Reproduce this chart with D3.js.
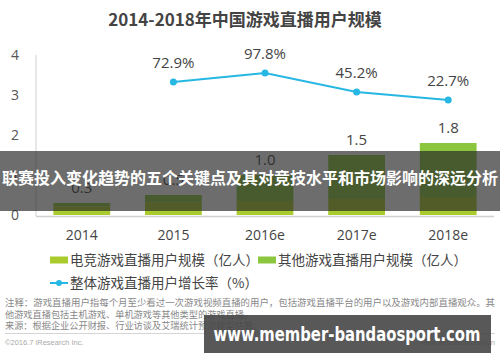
<!DOCTYPE html>
<html><head><meta charset="utf-8">
<script src="https://cdn.jsdelivr.net/npm/d3@7/dist/d3.min.js"></script>
<style>
html,body{margin:0;padding:0;background:#fff;}
svg{display:block;font-family:"Noto Sans CJK SC","Noto Sans",sans-serif;}
</style></head>
<body><svg id="c" width="500" height="362"></svg>
<script>
const categories = ["2014", "2015", "2016e", "2017e", "2018e"];
const esportsUsers = [0.22, 0.32, 0.35, 0.4, 0.45];
const otherUsers = [0.08, 0.18, 0.65, 1.1, 1.35];
const totalLabels = ["0.3", "0.5", "1.0", "1.5", "1.8"];
const growthRate = [null, 72.9, 97.8, 45.2, 22.7];
const yTicks = [0, 1, 2, 3, 4];
const seriesNames = ["电竞游戏直播用户规模（亿人）", "其他游戏直播用户规模（亿人）", "整体游戏直播用户增长率（%）"];
const titleText = "2014-2018年中国游戏直播用户规模";
const notes = ["注释：游戏直播用户指每个月至少看过一次游戏视频直播的用户，包括游戏直播平台的用户以及游戏内部直播观众。其",
  "他游戏直播包括主机游戏、单机游戏等其他类型的游戏直播。",
  "来源：根据企业公开财报、行业访谈及艾瑞统计预测模型估算。"];
const bannerText = "联赛投入变化趋势的五个关键点及其对竞技水平和市场影响的深远分析";
const watermarkText = "www.member-bandaosport.com";

const svg = d3.select("#c");
const colLime = "#a9cb2e", colGreen = "#8cc63f", colLine = "#27b7e3";
const numFont = "'Open Sans','Noto Sans',sans-serif";

const x = d3.scaleBand().domain(categories).range([36, 494]).paddingInner(0.38).paddingOuter(0.19);
const y = d3.scaleLinear().domain([0, 4]).range([215, 55]);
const y2 = d3.scaleLinear().domain([0, 100]).range([108.2, 72.2]);

// title
svg.append("text").attr("x", 245).attr("y", 26).attr("text-anchor", "middle")
  .attr("font-size", 17).attr("font-weight", "bold").attr("fill", "#444").text(titleText);

// axes
svg.append("line").attr("x1", 36).attr("x2", 36).attr("y1", 55).attr("y2", 216).attr("stroke", "#d0d0d0").attr("stroke-width", 1);
svg.append("line").attr("x1", 36).attr("x2", 494).attr("y1", 216.5).attr("y2", 216.5).attr("stroke", "#d0d0d0").attr("stroke-width", 1.5);
svg.append("g").selectAll("text").data(yTicks).join("text")
  .attr("x", 15).attr("y", d => y(d) + 5).attr("text-anchor", "middle")
  .attr("font-family", numFont).attr("font-size", 14).attr("fill", "#555").text(d => d);

// stacked bars
const stackData = categories.map((c, i) => ({cat: c, e: esportsUsers[i], o: otherUsers[i]}));
const stack = d3.stack().keys(["e", "o"])(stackData);
const colors = [colLime, colGreen];
svg.append("g").selectAll("g").data(stack).join("g").attr("fill", (d, i) => colors[i])
  .selectAll("rect").data(d => d).join("rect")
  .attr("x", d => x(d.data.cat)).attr("width", x.bandwidth())
  .attr("y", d => y(d[1])).attr("height", d => y(d[0]) - y(d[1]));

svg.append("g").selectAll("text").data(stackData).join("text")
  .attr("x", d => x(d.cat) + x.bandwidth() / 2).attr("y", d => y(d.e + d.o) - 10)
  .attr("text-anchor", "middle").attr("font-family", numFont).attr("font-size", 15).attr("fill", "#444")
  .text((d, i) => totalLabels[i]);

// x labels
svg.append("g").selectAll("text").data(categories).join("text")
  .attr("x", d => x(d) + x.bandwidth() / 2).attr("y", 240).attr("text-anchor", "middle")
  .attr("font-family", numFont).attr("font-size", 14).attr("fill", "#444").text(d => d);

// growth line
const pts = categories.map((c, i) => ({cat: c, v: growthRate[i]})).filter(d => d.v !== null);
svg.append("path").datum(pts)
  .attr("d", d3.line().x(d => x(d.cat) + x.bandwidth() / 2).y(d => y2(d.v)))
  .attr("fill", "none").attr("stroke", colLine).attr("stroke-width", 2);
svg.append("g").selectAll("circle").data(pts).join("circle")
  .attr("cx", d => x(d.cat) + x.bandwidth() / 2).attr("cy", d => y2(d.v)).attr("r", 3.5).attr("fill", colLine);
svg.append("g").selectAll("text").data(pts).join("text")
  .attr("x", d => x(d.cat) + x.bandwidth() / 2).attr("y", d => y2(d.v) - 14).attr("text-anchor", "middle")
  .attr("font-family", numFont).attr("font-size", 15).attr("fill", "#444").text(d => d.v.toFixed(1) + "%");

// legend
const lg = svg.append("g");
lg.append("rect").attr("x", 50).attr("y", 256.5).attr("width", 18).attr("height", 7).attr("fill", colLime);
lg.append("text").attr("x", 70).attr("y", 265).attr("font-size", 13.5).attr("fill", "#444").text(seriesNames[0]);
lg.append("rect").attr("x", 258).attr("y", 256.5).attr("width", 18).attr("height", 7).attr("fill", colGreen);
lg.append("text").attr("x", 278).attr("y", 265).attr("font-size", 13.5).attr("fill", "#444").text(seriesNames[1]);
lg.append("line").attr("x1", 50).attr("x2", 68).attr("y1", 283).attr("y2", 283).attr("stroke", colLine).attr("stroke-width", 2);
lg.append("circle").attr("cx", 59).attr("cy", 283).attr("r", 3).attr("fill", colLine);
lg.append("text").attr("x", 70).attr("y", 288).attr("font-size", 13.5).attr("fill", "#444").text(seriesNames[2]);

// notes
svg.append("g").selectAll("text").data(notes).join("text")
  .attr("x", 5).attr("y", (d, i) => 306 + i * 11.5).attr("font-size", 9.2).attr("fill", "#888")
  .attr("textLength", (d, i) => i === 0 ? 490 : null).attr("lengthAdjust", "spacingAndGlyphs").text(d => d);
svg.append("line").attr("x1", 5).attr("x2", 495).attr("y1", 333.5).attr("y2", 333.5).attr("stroke", "#d5d5d5");
svg.append("text").attr("x", 5).attr("y", 345).attr("font-family", "'Liberation Sans',sans-serif").attr("font-size", 7.5).attr("fill", "#aaa").text("©2016.7 iResearch Inc.");
svg.append("text").attr("x", 495).attr("y", 345).attr("text-anchor", "end").attr("font-family", "'Liberation Sans',sans-serif").attr("font-size", 7.5).attr("fill", "#aaa").text("www.iresearch.com.cn");

// overlay banner
svg.append("rect").attr("x", 0).attr("y", 151).attr("width", 500).attr("height", 60).attr("fill", "rgba(40,40,40,0.68)");
svg.append("text").attr("x", 250).attr("y", 184).attr("text-anchor", "middle").attr("font-size", 16).attr("font-weight", "bold")
  .attr("fill", "#fff").attr("textLength", 496).attr("lengthAdjust", "spacingAndGlyphs").text(bannerText);

// watermark
svg.append("rect").attr("x", 204).attr("y", 315).attr("width", 287).attr("height", 38).attr("fill", "rgba(70,70,70,0.9)");
svg.append("text").attr("x", 347).attr("y", 341).attr("text-anchor", "middle").attr("font-family", "'DejaVu Sans',sans-serif")
  .attr("font-size", 19).attr("font-weight", "bold").attr("fill", "#fff").attr("textLength", 267).attr("lengthAdjust", "spacingAndGlyphs").text(watermarkText);
</script></body></html>
